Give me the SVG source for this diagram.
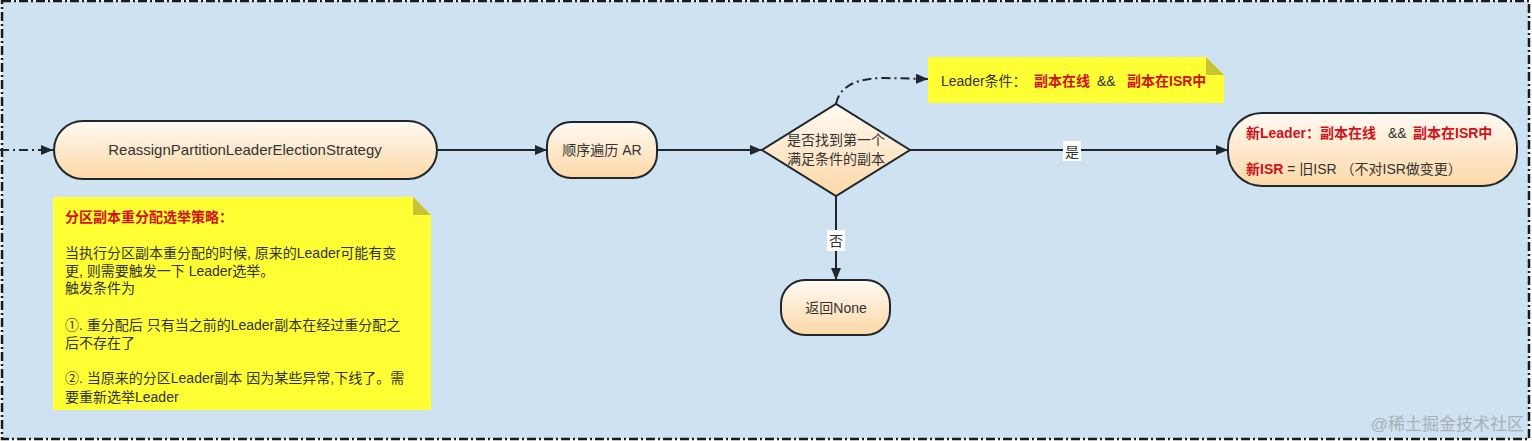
<svg xmlns="http://www.w3.org/2000/svg" width="1532" height="441" viewBox="0 0 1532 441">
<style>
text{font-family:"Liberation Sans","Noto Sans CJK SC",sans-serif;font-size:14px;fill:#333}
.node{stroke:#1f262d;stroke-width:2;fill:url(#g)}
.edge{stroke:#1f262d;stroke-width:2;fill:none}
.dd{stroke-dasharray:9,4,2,4}
.red{fill:#d0121b;font-weight:bold}
.note{fill:#ffff33}
.fold{fill:#c9c235}
.c{text-anchor:middle}
</style>
<defs>
<linearGradient id="g" x1="0" y1="0" x2="0" y2="1">
<stop offset="0" stop-color="#fffaf4"/>
<stop offset="1" stop-color="#fdd8a6"/>
</linearGradient>
<marker id="a" viewBox="0 0 12 10" refX="12" refY="5" markerWidth="12" markerHeight="10" markerUnits="userSpaceOnUse" orient="auto">
<path d="M0,0 L12,5 L0,10 Z" fill="#1f262d"/>
</marker>
</defs>
<rect x="2" y="1" width="1527" height="438" fill="#cfe2f1" stroke="#1a1a1a" stroke-width="2.5" stroke-dasharray="9,3,2,3"/>

<g id="connectors">
<path class="edge dd" d="M0,150 H53" marker-end="url(#a)"/>
<path class="edge" d="M437,150 H547" marker-end="url(#a)"/>
<path class="edge" d="M657,150 H762" marker-end="url(#a)"/>
<path class="edge dd" d="M836,104 C840,84 860,78 885,78 L928,79" marker-end="url(#a)"/>
<path class="edge" d="M910,150 H1228" marker-end="url(#a)"/>
<rect x="1063" y="141" width="18" height="20" fill="#fff"/>
<text class="c" x="1072" y="157">是</text>
<path class="edge" d="M836,196 V280" marker-end="url(#a)"/>
<rect x="827" y="230" width="18" height="21" fill="#fff"/>
<text class="c" x="836" y="246">否</text>
</g>

<g id="n1">
<rect class="node" x="54" y="121" width="383" height="58" rx="29"/>
<text class="c" x="245" y="155" style="font-size:15px">ReassignPartitionLeaderElectionStrategy</text>
</g>

<g id="note1">
<path class="note" d="M53,197 H413 L431,215 V410 H53 Z"/>
<path class="fold" d="M413,197 L431,215 H413 Z"/>
<text x="65" y="222" class="red">分区副本重分配选举策略：</text>
<text x="65" y="258">当执行分区副本重分配的时候, 原来的Leader可能有变</text>
<text x="65" y="276">更, 则需要触发一下 Leader选举。</text>
<text x="65" y="293">触发条件为</text>
<text x="65" y="330">①. 重分配后 只有当之前的Leader副本在经过重分配之</text>
<text x="65" y="348">后不存在了</text>
<text x="65" y="383">②. 当原来的分区Leader副本 因为某些异常,下线了。需</text>
<text x="65" y="402">要重新选举Leader</text>
</g>

<g id="n2">
<rect class="node" x="547" y="122" width="110" height="56" rx="24"/>
<text class="c" x="602" y="155">顺序遍历 AR</text>
</g>

<g id="d1">
<polygon class="node" points="762,150 836,104 910,150 836,196"/>
<text class="c" x="836" y="145">是否找到第一个</text>
<text class="c" x="836" y="164">满足条件的副本</text>
</g>

<g id="note2">
<path class="note" d="M928,57 H1206 L1224,75 V103 H928 Z"/>
<path class="fold" d="M1206,57 L1224,75 H1206 Z"/>
<text x="941" y="86">Leader条件：</text>
<text x="1034" y="86" class="red">副本在线</text>
<text x="1097" y="86">&amp;&amp;</text>
<text x="1127" y="86" class="red">副本在ISR中</text>
</g>

<g id="n3">
<rect class="node" x="1228" y="113" width="289" height="73" rx="34"/>
<text x="1246" y="138"><tspan class="red">新Leader：副本在线</tspan><tspan x="1384"> &amp;&amp;</tspan><tspan x="1413" class="red">副本在ISR中</tspan></text>
<text x="1246" y="174"><tspan class="red">新ISR</tspan><tspan> = 旧ISR  （不对ISR做变更）</tspan></text>
</g>

<g id="n4">
<rect class="node" x="781" y="280" width="109" height="55" rx="24"/>
<text class="c" x="836" y="313">返回None</text>
</g>

<text x="1524" y="430" text-anchor="end" style="font-size:17px;fill:#a9b0b6">@稀土掘金技术社区</text>
</svg>
